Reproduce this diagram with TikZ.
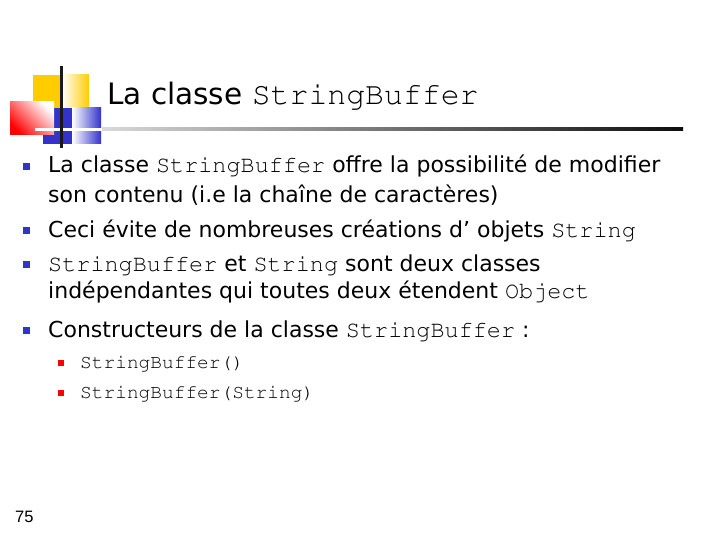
\documentclass[tikz,border=0pt]{standalone}
\usepackage[T1]{fontenc}
\usepackage{fontspec}
\setmainfont{DejaVu Sans}
\newfontfamily\pagefont{Liberation Sans}
\definecolor{logoyellow}{RGB}{255,204,0}
\definecolor{logoblue}{RGB}{51,51,204}
\definecolor{logored}{RGB}{255,0,0}
\newcommand\courierfont{\fontencoding{T1}\fontfamily{pcr}\selectfont}
\newcommand\jv[1]{{\fontsize{23.5}{28}\courierfont #1}}
\newcommand\jvsub[1]{{\fontsize{19.5}{24}\courierfont #1}}
\newcommand\jvtitle[1]{{\fontsize{31.5}{36}\courierfont #1}}

\begin{document}
\begin{tikzpicture}[x=1pt, y=-1pt,
	txt/.style={anchor=base west, inner sep=0pt, font=\fontsize{22}{26}\selectfont},
	titletxt/.style={anchor=base west, inner sep=0pt, font=\fontsize{29.5}{34}\selectfont}]
	\useasboundingbox[fill=white] (0,0) rectangle (720,540);
	% logo
	\fill[logoyellow] (33,75) rectangle (62,108);
	\shade[left color=white, right color=logoyellow] (62,75) rectangle (89,108);
	\fill[logoblue] (43,108) rectangle (72,144);
	\shade[left color=white, right color=logoblue] (72,108) rectangle (101,144);
	\shade[bottom color=logored, top color=white, shading angle=-45] (10,102) rectangle (54,135);
	\fill[white] (35,128) rectangle (102,131);
	\fill[black!90] (60,66) rectangle (62.5,148);
	% title
	\node[titletxt] (title) at (107,105) {La classe \jvtitle{StringBuffer}};
	\shade[left color=black!15, right color=black!95] (102,127.7) rectangle (683,130.7);
	% bullets
	\foreach \b in {173,237,271,337}
		\fill[logoblue] (23,\b-10) rectangle (30,\b-3);
	\foreach \b in {368,398}
		\fill[logored] (58,\b-8) rectangle (63.5,\b-2.5);
	\node[txt] (l1) at (48,173) {La classe \jv{StringBuffer} offre la possibilité de modifier};
	\node[txt] (l2) at (48,203) {son contenu (i.e la chaîne de caractères)};
	\node[txt] (l3) at (48,237) {Ceci évite de nombreuses créations d’ objets \jv{String}};
	\node[txt] (l4) at (48,271) {\jv{StringBuffer} et \jv{String} sont deux classes};
	\node[txt] (l5) at (48,298) {indépendantes qui toutes deux étendent \jv{Object}};
	\node[txt] (l6) at (48,337) {Constructeurs de la classe \jv{StringBuffer} :};
	\node[txt] (s1) at (80,368) {\jvsub{StringBuffer()}};
	\node[txt] (s2) at (80,398) {\jvsub{StringBuffer(String)}};
	% page number
	\node[anchor=base west, inner sep=0pt, font=\pagefont\fontsize{16.5}{20}\selectfont] (num) at (15,522) {75};
\end{tikzpicture}
\end{document}
